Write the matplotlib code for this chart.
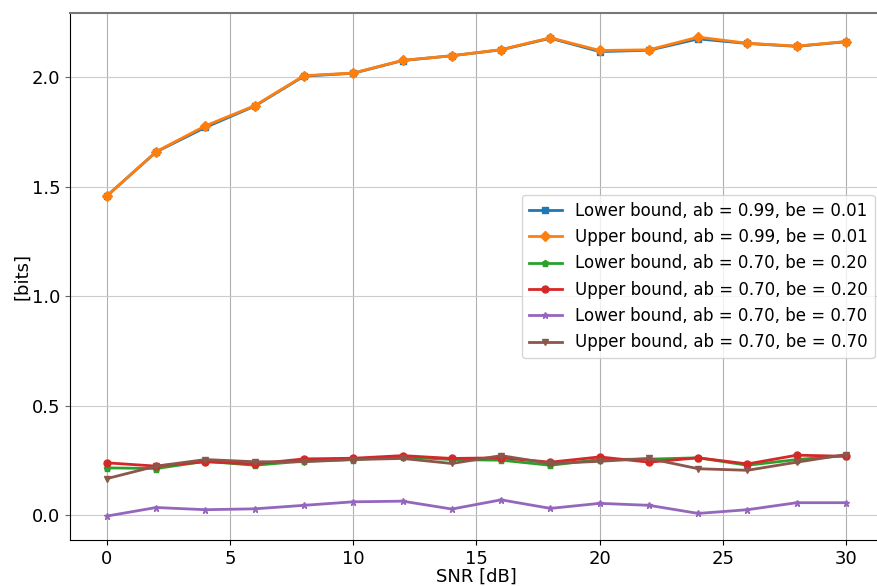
import matplotlib
matplotlib.use('Agg')
import matplotlib.pyplot as plt

snr = [0, 2, 4, 6, 8, 10, 12, 14, 16, 18, 20, 22, 24, 26, 28, 30]

lower_99_01 = [1.459, 1.660, 1.772, 1.869, 2.006, 2.019, 2.077, 2.099, 2.126, 2.179,
               2.118, 2.124, 2.176, 2.155, 2.142, 2.163]
upper_99_01 = [1.459, 1.661, 1.779, 1.871, 2.008, 2.020, 2.078, 2.099, 2.127, 2.181,
               2.123, 2.126, 2.184, 2.156, 2.143, 2.164]
lower_70_20 = [0.217, 0.214, 0.247, 0.229, 0.248, 0.255, 0.267, 0.255, 0.252, 0.229,
               0.255, 0.257, 0.263, 0.229, 0.255, 0.273]
upper_70_20 = [0.240, 0.225, 0.245, 0.235, 0.258, 0.261, 0.273, 0.260, 0.263, 0.243,
               0.267, 0.243, 0.263, 0.235, 0.275, 0.270]
lower_70_70 = [-0.003, 0.036, 0.026, 0.030, 0.046, 0.062, 0.065, 0.029, 0.071, 0.032,
               0.055, 0.046, 0.009, 0.026, 0.058, 0.058]
upper_70_70 = [0.168, 0.225, 0.255, 0.245, 0.245, 0.255, 0.260, 0.237, 0.273, 0.237,
               0.247, 0.260, 0.213, 0.206, 0.243, 0.278]

series = [
    (lower_99_01, 's', 'Lower bound, ab = 0.99, be = 0.01'),
    (upper_99_01, 'D', 'Upper bound, ab = 0.99, be = 0.01'),
    (lower_70_20, 'p', 'Lower bound, ab = 0.70, be = 0.20'),
    (upper_70_20, 'o', 'Upper bound, ab = 0.70, be = 0.20'),
    (lower_70_70, '*', 'Lower bound, ab = 0.70, be = 0.70'),
    (upper_70_70, 'v', 'Upper bound, ab = 0.70, be = 0.70'),
]

plt.rcParams['font.size'] = 13

fig = plt.figure(figsize=(8.78, 5.86), dpi=100)
ax = fig.add_axes([0.0797, 0.0785, 0.926, 0.899])

for i, (vals, mk, lab) in enumerate(series):
    ax.plot(snr, vals, marker=mk, markersize=5, linewidth=2, color=f'C{i}', label=lab)

ax.grid(True, axis='x', color='#b0b0b0', linewidth=0.8)
ax.grid(True, axis='y', color='#cccccc', linewidth=0.8)
ax.set_xlabel('SNR [dB]', labelpad=0)
ax.set_ylabel('[bits]', labelpad=0)
ax.set_xticks([0, 5, 10, 15, 20, 25, 30])
ax.set_yticks([0.0, 0.5, 1.0, 1.5, 2.0])
ax.tick_params(axis='y', color='#666666')
ax.spines['top'].set_color('#777777')
ax.spines['top'].set_linewidth(1.5)
ax.spines['right'].set_visible(False)
ax.legend(loc='center right', fontsize=12)

plt.savefig('out.png', dpi=100, facecolor='w')
